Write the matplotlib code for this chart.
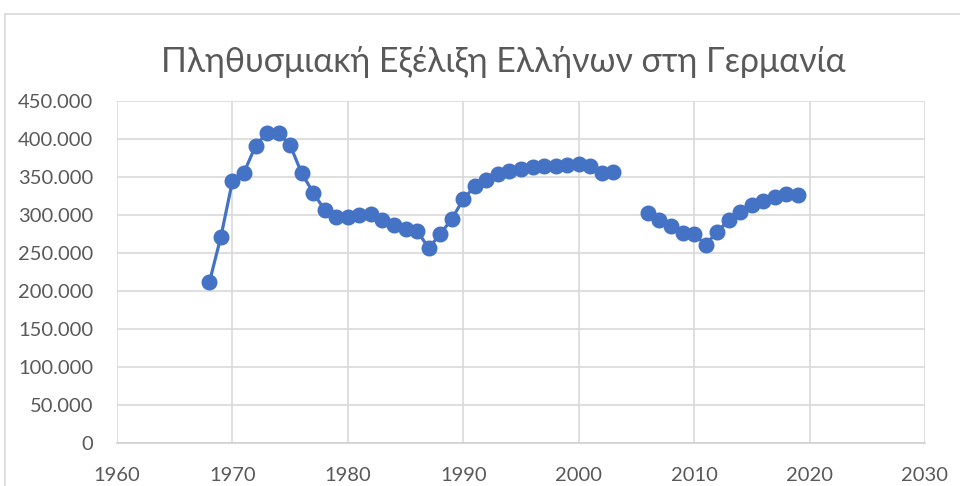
import numpy as np
import matplotlib.pyplot as plt
from matplotlib.lines import Line2D
from matplotlib.ticker import FuncFormatter

plt.rcParams['font.family'] = ['Lato', 'DejaVu Sans']

years = np.arange(1968, 2020)
# population (no data for 2004 and 2005)
greeks = [211500, 271500, 344600, 356000, 391000, 408600, 407800, 392000, 355000, 329500,
          306400, 297000, 297700, 299500, 301000, 293300, 287000, 281600, 279400, 256500,
          275000, 294600, 320800, 338000, 346500, 353400, 357700, 360800, 363500, 364800,
          365200, 366000, 367400, 364300, 355600, 356400, np.nan, np.nan, 302600, 293500,
          285600, 277000, 274800, 261000, 278000, 293500, 303400, 313000, 318500, 324000,
          328000, 327000]

title = 'Πληθυσμιακή Εξέλιξη Ελλήνων στη Γερμανία'
grey = '#595959'

fig = plt.figure(figsize=(9.6, 4.86), dpi=100)
ax = fig.add_axes([0.1219, 0.0885, 0.8416, 0.7035])

ax.plot(years, greeks, color='#4472C4', lw=2.3, marker='o', ms=10.5)

ax.set_xlim(1960, 2030)
ax.set_ylim(0, 450000)
ax.set_xticks(range(1960, 2031, 10))
ax.set_yticks(range(0, 450001, 50000))
ax.yaxis.set_major_formatter(FuncFormatter(lambda v, p: f'{int(v):,}'.replace(',', '.')))
ax.grid(True, color='#d9d9d9', lw=1.2)
ax.set_axisbelow(True)
for s in ['top', 'right', 'left']:
    ax.spines[s].set_visible(False)
ax.spines['bottom'].set_color('#d0d0d0')
ax.spines['bottom'].set_linewidth(1.2)
ax.tick_params(length=0, labelsize=14.5, colors=grey)
ax.tick_params(axis='y', pad=17)
ax.tick_params(axis='x', pad=17)

fig.text(0.524, 0.872, title, ha='center', va='center', fontsize=24.4, color=grey)

# chart area border
fig.add_artist(Line2D([5/960, 5/960], [0, 1 - 14/486], color='#d9d9d9', lw=1.2))
fig.add_artist(Line2D([5/960, 1], [1 - 14/486, 1 - 14/486], color='#d9d9d9', lw=1.2))

fig.savefig('out.png', dpi=100)
